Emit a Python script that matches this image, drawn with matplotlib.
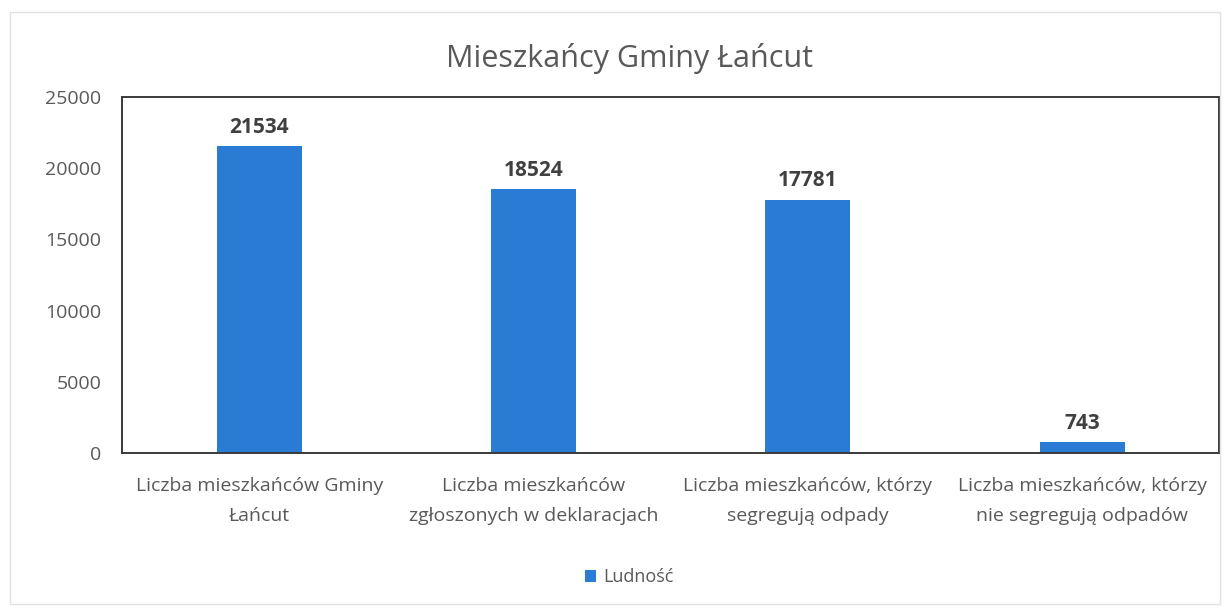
import matplotlib.pyplot as plt
from matplotlib.patches import Rectangle

categories = [
    "Liczba mieszkańców Gminy\nŁańcut",
    "Liczba mieszkańców\nzgłoszonych w deklaracjach",
    "Liczba mieszkańców, którzy\nsegregują odpady",
    "Liczba mieszkańców, którzy\nnie segregują odpadów",
]
values = [21534, 18524, 17781, 743]
yticks = [0, 5000, 10000, 15000, 20000, 25000]
series_name = "Ludność"

BAR = "#2a7bd3"
TXT = "#595959"

plt.rcParams["font.family"] = ["Open Sans", "DejaVu Sans"]

fig = plt.figure(figsize=(12.29, 6.13), dpi=100)
ax = fig.add_axes([0.0993, 0.261, 0.8927, 0.581])

x = range(len(categories))
bars = ax.bar(x, values, width=0.31, color=BAR, label=series_name)
for xi, v in zip(x, values):
    ax.annotate(str(v), (xi, v), xytext=(0, 6), textcoords="offset points",
                ha="center", va="bottom", fontsize=15, fontweight="bold", color="#404040")

ax.set_xlim(-0.5, len(categories) - 0.5)
ax.set_ylim(0, 25000)
ax.set_yticks(yticks)
ax.set_yticklabels([str(t) for t in yticks], fontsize=14, color=TXT)
ax.set_xticks(list(x))
ax.set_xticklabels(categories, fontsize=14, color=TXT, linespacing=1.85)
ax.tick_params(axis="both", length=0)
ax.tick_params(axis="x", pad=17)
ax.tick_params(axis="y", pad=15)
for s in ax.spines.values():
    s.set_color("#3a3a3a")
    s.set_linewidth(1.4)

fig.text(0.512, 0.905, "Mieszkańcy Gminy Łańcut", ha="center", va="center",
         fontsize=22, color=TXT)

fig.legend(handles=[bars], labels=[series_name], loc="center", bbox_to_anchor=(0.512, 0.058),
           frameon=False, fontsize=13, labelcolor=TXT, handlelength=0.6, handleheight=0.6,
           handletextpad=0.4)

# faint outer frame of the chart area
fig.add_artist(Rectangle((0.008, 0.015), 0.985, 0.965, transform=fig.transFigure,
                         fill=False, edgecolor="#e2e2e2", linewidth=1))

fig.savefig("out.png", dpi=100)
